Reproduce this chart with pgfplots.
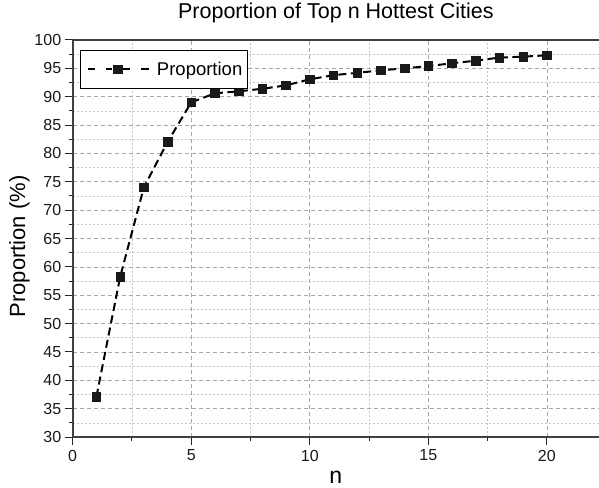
\documentclass[border=0pt]{standalone}
\usepackage{fontspec}
\setmainfont{Liberation Sans}
\usepackage{pgfplots}
\pgfplotsset{compat=1.18}
\begin{document}
\begin{tikzpicture}[x=1pt,y=1pt]
\begin{axis}[
  at={(0pt,0pt)}, anchor=south west,
  scale only axis,
  width=526.3pt, height=397pt,
  xmin=0, xmax=22.2, ymin=30, ymax=100,
  axis x line*=box, axis y line*=left,
  xtick={0,5,...,20}, ytick={30,35,...,100},
  minor x tick num=1, minor y tick num=1,
  xtick pos=bottom, ytick pos=left,
  tick align=outside,
  major tick length=8pt, minor tick length=4pt,
  every tick/.style={black!85, line width=1pt},
  grid=both,
  major grid style={black!35, dash pattern=on 4pt off 3pt, line width=0.7pt},
  minor grid style={black!22, dash pattern=on 2pt off 2pt, line width=0.6pt},
  axis line style={black!75, line width=1.7pt},
  /pgf/number format/assume math mode=true,
  tick label style={font=\fontsize{16}{18}\selectfont, black!90},
  xticklabel style={yshift=-1.4pt},
  title={Proportion of Top n Hottest Cities},
  title style={font=\fontsize{21.5}{24}\selectfont, at={(axis description cs:0.5,1)}, anchor=base, yshift=15pt},
  xlabel={n},
  xlabel style={font=\fontsize{23}{25}\selectfont, at={(axis description cs:0.5,0)}, anchor=base, yshift=-46pt},
  ylabel={Proportion (\%)},
  ylabel style={font=\fontsize{22}{24}\selectfont, at={(axis description cs:-0.0906,0.48)}, anchor=base},
  legend style={font=\fontsize{18.5}{20}\selectfont, draw=black, line width=0.9pt, at={(axis description cs:0.0139,0.9755)}, anchor=north west, inner xsep=3.5pt, inner ysep=9.5pt},
  legend cell align=left,
  legend image code/.code={
    \path[draw=none, fill=none] (0pt,-4pt) rectangle (71pt,4pt);
    \draw[#1, solid] (4pt,0pt) -- (11.4pt,0pt) (22.4pt,0pt) -- (28.5pt,0pt) (39pt,0pt) -- (46pt,0pt) (57.3pt,0pt) -- (64.7pt,0pt);
    \draw[#1, solid] plot coordinates {(33.7pt,0pt)};
  },
]
\addplot[black, line width=2pt, dash pattern=on 8pt off 4.5pt, mark=square*, mark size=4.3pt, mark options={solid, line width=0.6pt, fill=black!90, draw=black!90}]
coordinates {
(1,37.1) (2,58.2) (3,74.0) (4,82.0) (5,89.0) (6,90.6) (7,90.95) (8,91.4) (9,92.0) (10,93.07)
(11,93.8) (12,94.2) (13,94.65) (14,95.0) (15,95.4) (16,95.9) (17,96.35) (18,96.9) (19,97.06) (20,97.3)
};
\addlegendentry{Proportion}
\end{axis}
\pgfresetboundingbox
\path (-72.7pt,-50pt) rectangle (526.3pt,437pt);
\end{tikzpicture}
\end{document}
